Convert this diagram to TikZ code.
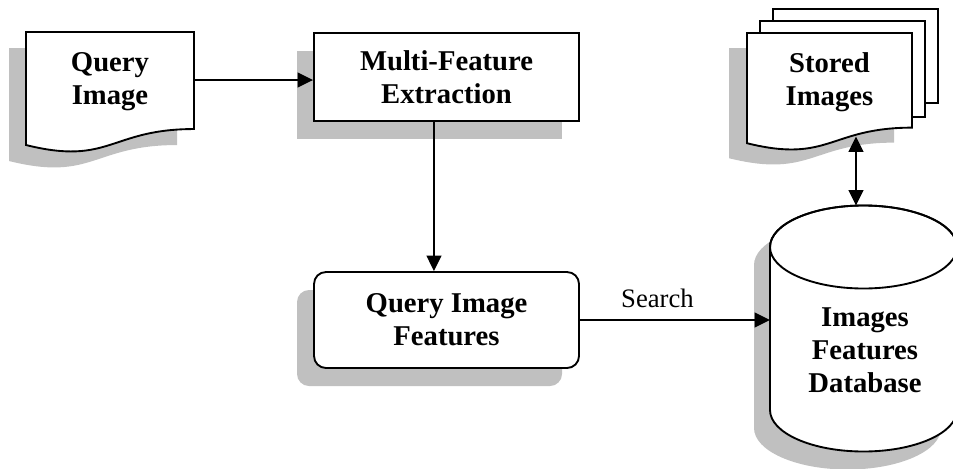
\documentclass[tikz,border=0pt]{standalone}
\usepackage{fontspec}
\setmainfont{Liberation Serif}
\usetikzlibrary{arrows.meta,shadows,positioning}

\definecolor{shadowgray}{RGB}{192,192,192}

% page with a wavy lower edge: style, left, top, width, height
\newcommand{\docpage}[5]{%
  \path[#1] (#2,#3) -- ({#2+#4},#3) -- ({#2+#4},{#3+0.802*#5})
    .. controls ({#2+0.5*#4},{#3+0.802*#5}) and ({#2+0.5*#4},{#3+1.107*#5})
    .. (#2,{#3+0.934*#5}) -- cycle;}

% upright drum: style, centre x, top y, bottom y, x radius, y radius
\newcommand{\drum}[6]{%
  \path[#1] ({#2-#5},#3) -- ({#2-#5},#4)
    arc[start angle=180, end angle=0, x radius=#5, y radius=#6]
    -- ({#2+#5},#3)
    arc[start angle=0, end angle=-180, x radius=#5, y radius=#6] -- cycle;}

\tikzset{
  outline/.style={draw=black, fill=white, line width=1.4pt},
  shade/.style={fill=shadowgray},
  boxshadow/.style={general shadow={fill=shadowgray,
      shadow xshift=-12.75pt, shadow yshift=-13.5pt}},
  boxtext/.style={font=\fontsize{21.5}{24.75}\selectfont\bfseries, align=center},
  flowbox/.style={outline, boxshadow, boxtext, inner sep=0pt},
  arr/.style={line width=1.4pt, -{Triangle[length=11.5pt,width=11pt]}},
  arrboth/.style={line width=1.4pt, {Triangle[length=11.5pt,width=11pt]}-{Triangle[length=11.5pt,width=11pt]}},
}

\begin{document}
\begin{tikzpicture}[x=0.75pt, y=-0.75pt]

\useasboundingbox (0,0) rectangle (953,468);

% query image page
\begin{scope}[shift={(-17,16)}]
  \docpage{shade}{26}{32}{168}{121}
\end{scope}
\docpage{outline}{26}{32}{168}{121}
\node[boxtext] (qimg) at (110,82) {Query\\Image};
\coordinate (qimg-out) at (194,80);

% extraction and feature boxes
\node[flowbox, minimum width=198.75pt, minimum height=66pt] (mfe) at (446.5,77)
  {Multi-Feature\\Extraction};
\node[flowbox, rounded corners=9pt, minimum width=198.75pt, minimum height=72pt] (qif) at (446.5,320)
  {Query Image\\Features};

% stack of stored pages
\draw[outline] (773,9) rectangle (938,103);
\draw[outline] (760,21) rectangle (925,117);
\begin{scope}[shift={(-18,15)}]
  \docpage{shade}{747}{33}{165}{118}
\end{scope}
\docpage{outline}{747}{33}{165}{118}
\node[boxtext] (stored) at (829.5,82) {Stored\\Images};
\coordinate (stored-in) at (856,136.5);

% database drum
\begin{scope}[shift={(-16,18)}]
  \drum{shade}{863.5}{247}{410}{93.5}{41.5}
\end{scope}
\drum{outline}{863.5}{247}{410}{93.5}{41.5}
\draw[line width=1.4pt] (863.5,247) ellipse [x radius=93.5, y radius=41.5];
\node[boxtext] (db) at (865,350.5) {Images\\Features\\Database};
\coordinate (db-top) at (856,205.5);
\coordinate (db-in) at (770,321);

% connectors
\draw[arr] (qimg-out) -- (qimg-out -| mfe.west);
\draw[arr] ([xshift=-9.4pt]mfe.south) -- ([xshift=-9.4pt]qif.north);
\draw[arr] (qif.east) -- (qif.east -| db-in);
\node[font=\fontsize{20}{24}\selectfont, anchor=base] (search) at (657.5,307) {Search};
\draw[arrboth] (stored-in) -- (db-top);

\end{tikzpicture}
\end{document}
